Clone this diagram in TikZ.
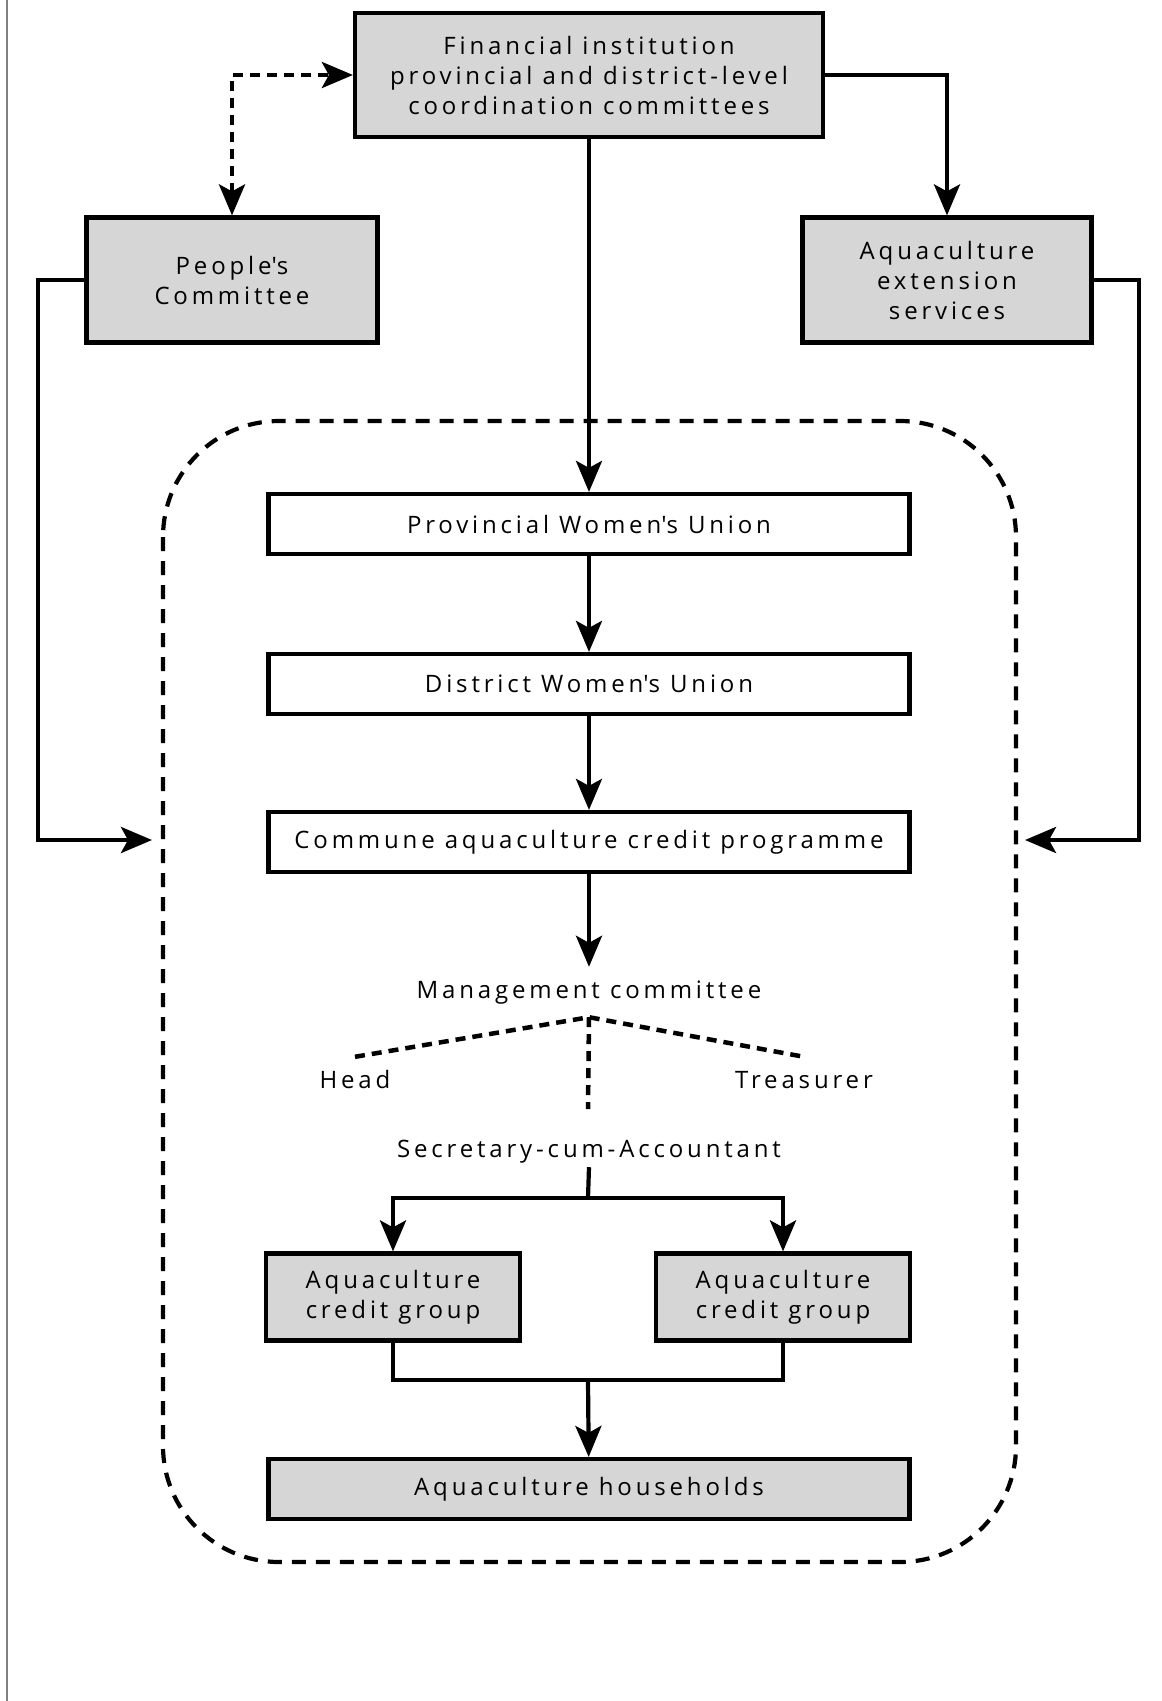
\documentclass[tikz,border=0pt]{standalone}
\usepackage{fontspec}
\setmainfont{Open Sans}[LetterSpace=16]
\usetikzlibrary{positioning, arrows.meta}

\definecolor{boxgray}{HTML}{D6D6D6}

\tikzset{
  box/.style={draw, line width=4.2pt, align=center, inner sep=0pt},
  graybox/.style={box, fill=boxgray},
  unionbox/.style={box, fill=white, minimum width=641pt, minimum height=60pt},
  groupbox/.style={graybox, minimum width=254pt, minimum height=87pt},
  role/.style={inner xsep=0pt, inner ysep=4pt, text height=18pt, text depth=6pt},
  link/.style={line width=4.2pt},
  dotlink/.style={line width=4.5pt, dash pattern=on 10pt off 7pt},
  frame/.style={line width=4.2pt, dash pattern=on 14pt off 10pt, rounded corners=116pt},
}

\begin{document}
\begin{tikzpicture}[x=1pt, y=-1pt, on grid, node distance=160pt,
    >={Stealth[length=31pt, width=26pt, inset=7pt]},
    font=\fontsize{24}{30}\selectfont]
  \useasboundingbox (0,0) rectangle (1162,1701);
  \draw[line width=1.5pt, gray] (7,0) -- (7,1701);

  % top level
  \node[graybox, minimum width=468pt, minimum height=124pt] (fin) at (589,75)
    {Financial institution\\provincial and district-level\\coordination committees};
  \node[graybox, minimum width=291pt, minimum height=125pt] (people) at (232,280)
    {People\textquotesingle s\\Committee};
  \node[graybox, minimum width=289pt, minimum height=125pt] (ext) at (947,280)
    {Aquaculture\\extension\\services};

  % women's union chain
  \node[unionbox, below=449pt of fin] (prov) {Provincial Women\textquotesingle s Union};
  \node[unionbox, below=of prov] (dist) {District Women\textquotesingle s Union};
  \node[unionbox, below=158pt of dist] (comm) {Commune aquaculture credit programme};

  \node[role, inner ysep=13pt, below=150pt of comm] (mgmt) {Management committee};
  \node[role, inner ysep=13pt] (head) at (355,1082) {Head};
  \node[role, inner ysep=13pt] (treas) at (804,1082) {Treasurer};
  \node[role, below=159pt of mgmt] (sec) {Secretary-cum-Accountant};

  \node[groupbox] (grpL) at (393,1297) {Aquaculture\\credit group};
  \node[groupbox] (grpR) at (783,1297) {Aquaculture\\credit group};
  \node[unionbox, fill=boxgray, below=647pt of comm] (hh) {Aquaculture households};

  \draw[frame] (163,421) rectangle (1016,1562);

  \coordinate (secend) at (588,1109);
  \coordinate (split) at (588,1198);
  \coordinate (merge) at (588,1380);
  \coordinate (railL) at (38,840);
  \coordinate (inL) at (152,840);
  \coordinate (railR) at (1139,840);
  \coordinate (inR) at (1025,840);

  % connectors
  \draw[dotlink, <->] (people.north) |- (fin.west);
  \draw[link, ->] (fin.east) -| (ext.north);
  \draw[link, ->] (fin) -- (prov);
  \draw[link, ->] (prov) -- (dist);
  \draw[link, ->] (dist) -- (comm);
  \draw[link, ->] (comm) -- (mgmt);
  \draw[dotlink] (head.north) -- (mgmt.south) -- (treas.north);
  \draw[dotlink] (mgmt.south) -- (secend);
  \draw[link] (sec.south) -- (split);
  \draw[link, ->] (split) -| (grpL.north);
  \draw[link, ->] (split) -| (grpR.north);
  \draw[link] (grpL.south) |- (merge) -| (grpR.south);
  \draw[link, ->] (merge) -- (hh);
  \draw[link, ->] (people.west) -| (railL) -- (inL);
  \draw[link, ->] (ext.east) -| (railR) -- (inR);
\end{tikzpicture}
\end{document}
